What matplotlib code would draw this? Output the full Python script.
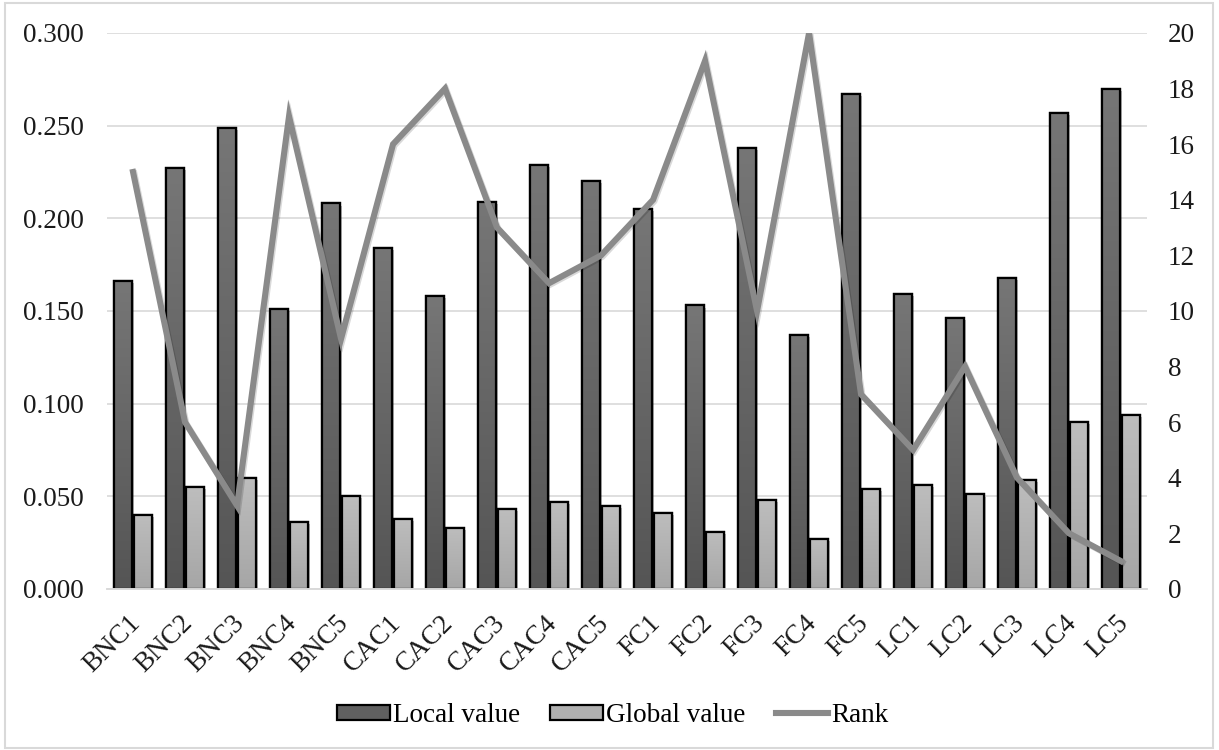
import numpy as np
import matplotlib.pyplot as plt
from matplotlib.patches import Rectangle
from matplotlib.lines import Line2D
from matplotlib.transforms import ScaledTranslation
from matplotlib import patheffects as pe

plt.rcParams['font.family'] = ['Liberation Serif', 'DejaVu Serif']

criteria = ['BNC1', 'BNC2', 'BNC3', 'BNC4', 'BNC5',
            'CAC1', 'CAC2', 'CAC3', 'CAC4', 'CAC5',
            'FC1', 'FC2', 'FC3', 'FC4', 'FC5',
            'LC1', 'LC2', 'LC3', 'LC4', 'LC5']
local_value = [0.166, 0.227, 0.249, 0.151, 0.208,
               0.184, 0.158, 0.209, 0.229, 0.220,
               0.205, 0.153, 0.238, 0.137, 0.267,
               0.159, 0.146, 0.168, 0.257, 0.270]
global_value = [0.040, 0.055, 0.060, 0.036, 0.050,
                0.038, 0.033, 0.043, 0.047, 0.045,
                0.041, 0.031, 0.048, 0.027, 0.054,
                0.056, 0.051, 0.059, 0.090, 0.094]
rank = [15, 6, 3, 17, 9, 16, 18, 13, 11, 12,
        14, 19, 10, 20, 7, 5, 8, 4, 2, 1]

x = np.arange(len(criteria))
bar_w = 0.34
offset = 0.19
fs = 19.5

fig = plt.figure(figsize=(12.19, 7.5), dpi=100)
ax = fig.add_axes([0.0878, 0.2147, 0.8532, 0.7413])
ax2 = ax.twinx()

# outer frame around the whole figure
fig.patches.append(Rectangle((0.004, 0.003), 0.991, 0.993, transform=fig.transFigure,
                             fill=False, edgecolor='#d9d9d9', linewidth=1.5))

shadow = [pe.SimplePatchShadow(offset=(1.5, -1.5), shadow_rgbFace='#000000', alpha=0.25),
          pe.Normal()]


def gradient_bars(xpos, heights, top_col, bot_col):
    bars = ax.bar(xpos, heights, width=bar_w, color=bot_col, edgecolor='black',
                  linewidth=1.6, zorder=2, path_effects=shadow)
    top = np.array(plt.matplotlib.colors.to_rgb(top_col))
    bot = np.array(plt.matplotlib.colors.to_rgb(bot_col))
    t = np.linspace(0, 1, 64)[:, None]
    grad = (top * (1 - t) + bot * t)[:, None, :]
    for b in bars:
        x0, y0, w, h = b.get_x(), b.get_y(), b.get_width(), b.get_height()
        im = ax.imshow(grad, extent=(x0, x0 + w, y0, y0 + h), aspect='auto',
                       origin='upper', zorder=2.1, interpolation='bilinear')
        im.set_clip_path(b)
    ax.bar(xpos, heights, width=bar_w, color='none', edgecolor='black',
           linewidth=1.6, zorder=2.2)
    return bars


gradient_bars(x - offset, local_value, '#767676', '#555555')
gradient_bars(x + offset, global_value, '#bdbdbd', '#a6a6a6')

ax.set_xlim(-0.5, len(criteria) - 0.5)
ax.set_ylim(0, 0.3)
ax.set_yticks(np.arange(0, 0.301, 0.05))
ax.set_yticklabels([f'{v:.3f}' for v in np.arange(0, 0.301, 0.05)])
ax.grid(axis='y', color='#d9d9d9', linewidth=1.2, zorder=0)
ax.set_axisbelow(True)

ax2.plot(x, rank, color='#8a8a8a', linewidth=4.4, solid_joinstyle='miter', zorder=5,
         path_effects=[pe.SimpleLineShadow(offset=(1, -1), shadow_color='#000000', alpha=0.15),
                       pe.Normal()])
ax2.set_ylim(0, 20)
ax2.set_yticks(np.arange(0, 21, 2))

for a in (ax, ax2):
    for s in ('top', 'left', 'right'):
        a.spines[s].set_visible(False)
    a.spines['bottom'].set_color('#d9d9d9')
    a.spines['bottom'].set_linewidth(1.2)
    a.tick_params(length=0, labelsize=fs, colors='#1a1a1a')

ax.tick_params(axis='y', pad=17)
ax2.tick_params(axis='y', pad=15)
ax.set_xticks(x)
ax.set_xticklabels(criteria, rotation=45, ha='right', va='center',
                   rotation_mode='anchor')
ax.tick_params(axis='x', pad=22)
# nudge the slanted labels a little to the right
shift = ScaledTranslation(4 / 100, 0, fig.dpi_scale_trans)
for lbl in ax.get_xticklabels():
    lbl.set_transform(lbl.get_transform() + shift)

handles = [Rectangle((0, 0), 1, 1, facecolor='#606060', edgecolor='black', linewidth=1.6),
           Rectangle((0, 0), 1, 1, facecolor='#b0b0b0', edgecolor='black', linewidth=1.6),
           Line2D([0], [0], color='#8a8a8a', linewidth=4.4)]
fig.legend(handles, ['Local value', 'Global value', 'Rank'], loc='center',
           bbox_to_anchor=(0.503, 0.046), ncol=3, frameon=False, fontsize=fs,
           handlelength=1.95, handleheight=0.5, handletextpad=0.12,
           columnspacing=1.1)

fig.savefig('out.png', dpi=100)
